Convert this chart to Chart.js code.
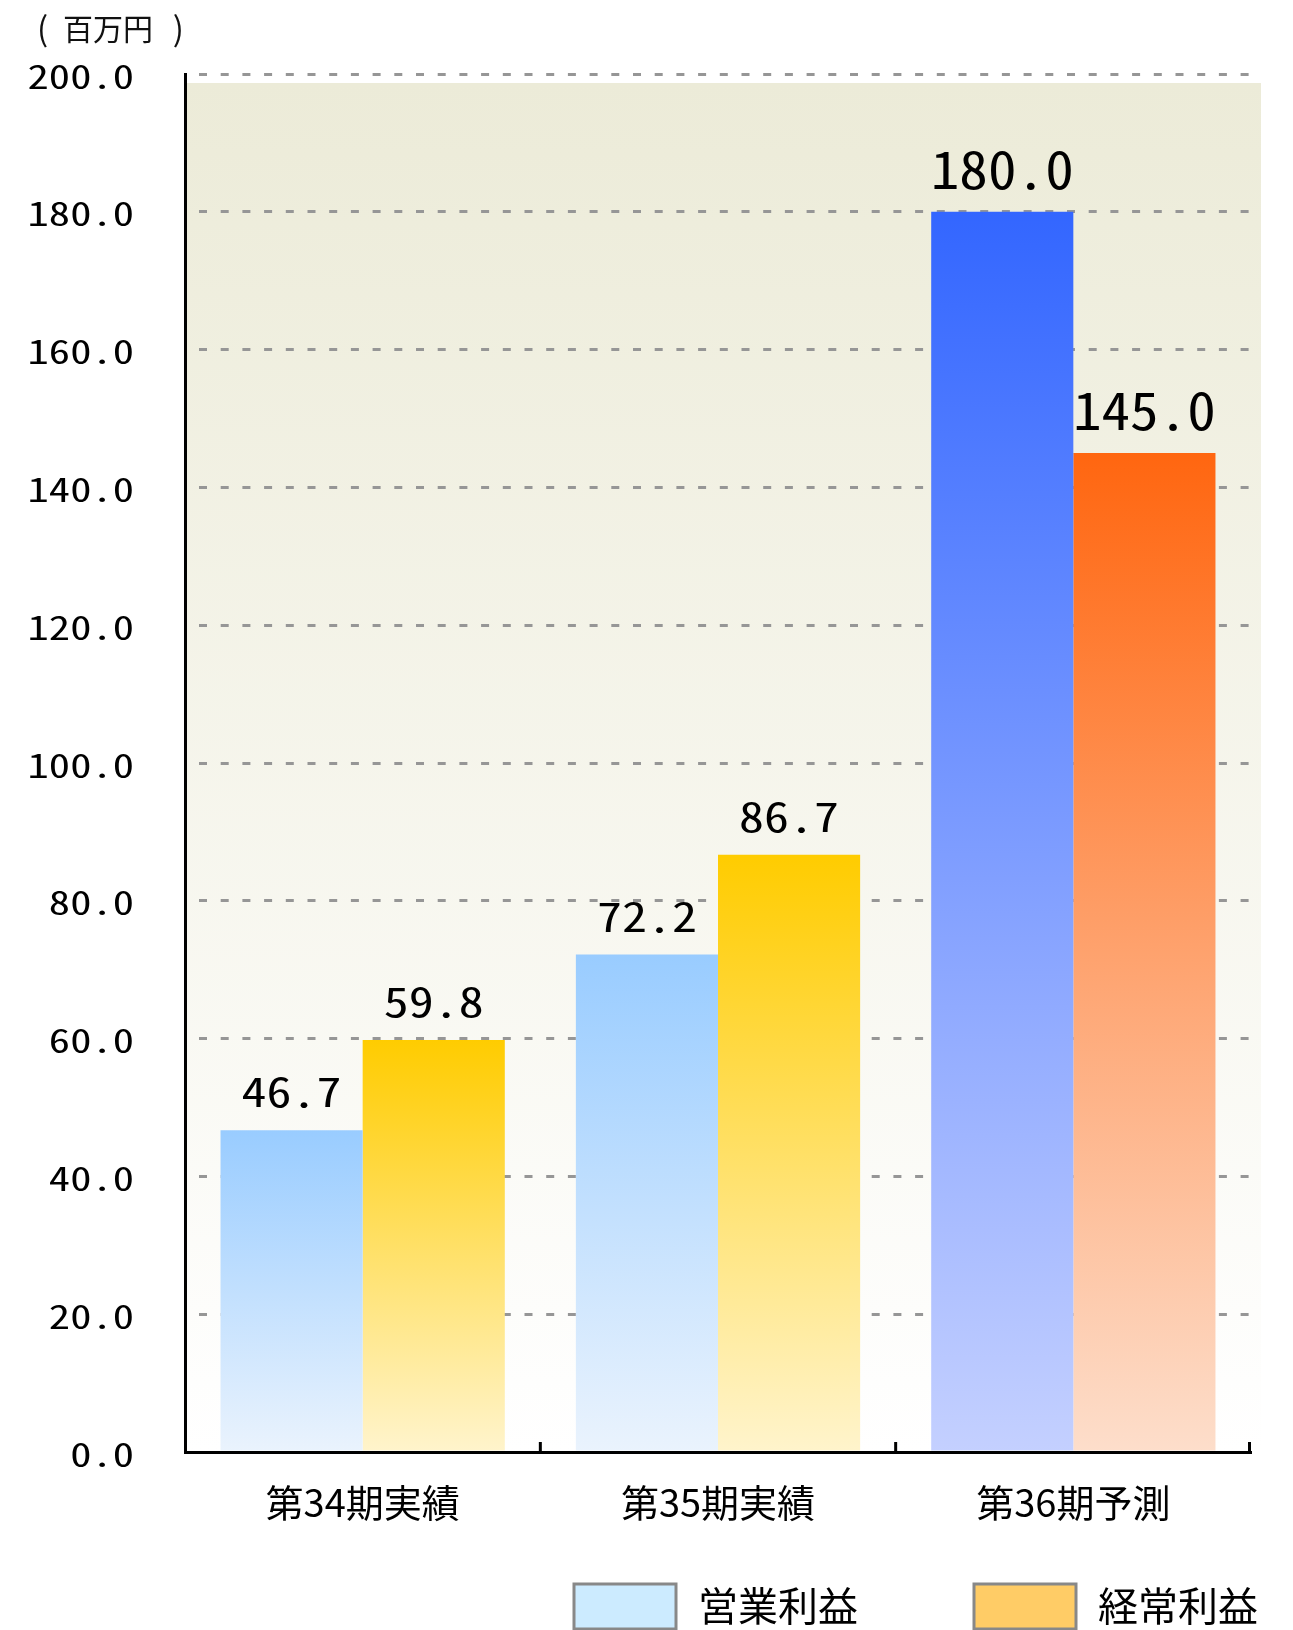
<!DOCTYPE html>
<html>
<head>
<meta charset="utf-8">
<script src="https://cdn.jsdelivr.net/npm/chart.js@4.4.1/dist/chart.umd.min.js"></script>
<style>
  html, body { margin: 0; padding: 0; background: #ffffff; overflow: hidden; }
  #wrap { width: 1293px; height: 1630px; }
</style>
</head>
<body>
<div id="wrap"><canvas id="c" width="1293" height="1630"></canvas></div>
<script>
// ---- data ----
const categories = ['第34期実績', '第35期実績', '第36期予測'];
const seriesNames = ['営業利益', '経常利益'];
const operatingProfit = [46.7, 72.2, 180.0];
const ordinaryProfit = [59.8, 86.7, 145.0];
const yTicks = [0, 20, 40, 60, 80, 100, 120, 140, 160, 180, 200];
const unitLabel = '百万円';

// ---- styles ----
const barTop = [
  ['#99CCFF', '#99CCFF', '#3366FF'],
  ['#FFCC00', '#FFCC00', '#FF6610']
];
const barBottom = [
  ['#EAF3FD', '#EAF3FD', '#C4D0FF'],
  ['#FFF4CC', '#FFF4CC', '#FDDECB']
];
const legendFill = ['#CCEBFF', '#FFCC66'];
const CJK = '"Noto Sans CJK JP", "Noto Sans", sans-serif';

function hasFont(name) {
  const c = document.createElement('canvas').getContext('2d');
  const s = '0.0WWiil180';
  c.font = '40px monospace'; const a = c.measureText(s).width;
  c.font = '40px serif'; const b = c.measureText(s).width;
  c.font = '40px "' + name + '", monospace'; const m = c.measureText(s).width;
  c.font = '40px "' + name + '", serif'; const n = c.measureText(s).width;
  return m !== a && n !== b;
}
const NOTO_MONO = hasFont('Noto Sans Mono CJK JP');
// [font size, letter spacing, horizontal stretch]
const NUM = NOTO_MONO
  ? { family: '"Noto Sans Mono CJK JP", "Liberation Mono", monospace', tick: [33, 0, 1.29], small: [41, 0, 1.22], big: [52, 0, 1.1] }
  : { family: '"Liberation Mono", monospace', tick: [34, 0, 1], small: [42, 0, 1], big: [50, 0, 1] };

function stretchedText(ctx, text, x, y, sx) {
  ctx.save();
  ctx.translate(x, y);
  ctx.scale(sx, 1);
  CanvasRenderingContext2D.prototype.fillText.call(ctx, text, 0, 0);
  ctx.restore();
}

function barFill(c, s) {
  const chart = c.chart;
  const i = c.dataIndex;
  if (c.type !== 'data' || !chart.chartArea || !chart.scales.y) return barTop[s][i || 0];
  const y = chart.scales.y;
  const yTop = y.getPixelForValue(c.raw);
  const yBot = y.getPixelForValue(0);
  const g = chart.ctx.createLinearGradient(0, yTop, 0, yBot);
  g.addColorStop(0, barTop[s][i]);
  g.addColorStop(1, barBottom[s][i]);
  return g;
}

const decorPlugin = {
  id: 'decor',
  beforeDraw(chart) {
    const { ctx, chartArea: a } = chart;
    // horizontally stretched y tick labels
    const ys = chart.scales.y;
    if (ys && !ys._stretchedLabels) {
      const orig = ys.drawLabels;
      ys.drawLabels = function (area) {
        const cx = this.ctx;
        cx.fillText = function (t, x, y) { stretchedText(this, t, x, y, NUM.tick[2]); };
        try { orig.call(this, area); } finally { delete cx.fillText; }
      };
      ys._stretchedLabels = true;
    }
    ctx.save();
    const top = a.top + 9;
    const g = ctx.createLinearGradient(0, top, 0, a.bottom);
    g.addColorStop(0, '#ECEBD8');
    g.addColorStop(1, '#FFFFFF');
    ctx.fillStyle = g;
    ctx.fillRect(a.left, top, a.right - a.left + 10, a.bottom - top);
    ctx.restore();
  },
  afterDatasetsDraw(chart) {
    const { ctx } = chart;
    ctx.save();
    ctx.fillStyle = '#000';
    ctx.textAlign = 'center';
    ctx.textBaseline = 'alphabetic';
    chart.data.datasets.forEach((ds, di) => {
      const meta = chart.getDatasetMeta(di);
      meta.data.forEach((el, i) => {
        const spec = i === categories.length - 1 ? NUM.big : NUM.small;
        ctx.font = spec[0] + 'px ' + NUM.family;
        stretchedText(ctx, ds.data[i].toFixed(1), el.x, el.y - 23, spec[2]);
      });
    });
    ctx.restore();
  },
  afterDraw(chart) {
    const { ctx, chartArea: a } = chart;
    ctx.save();
    // inward tick marks on x axis at category boundaries
    ctx.strokeStyle = '#000';
    ctx.lineWidth = 3;
    const n = categories.length;
    for (let k = 1; k <= n; k++) {
      const x = a.left + (a.right - a.left) * k / n;
      const xx = k === n ? x - 1.5 : x;
      ctx.beginPath();
      ctx.moveTo(xx, a.bottom);
      ctx.lineTo(xx, a.bottom - 10);
      ctx.stroke();
    }
    // unit label
    ctx.fillStyle = '#111';
    ctx.textBaseline = 'middle';
    ctx.font = '33px ' + CJK;
    ctx.textAlign = 'left';
    ctx.fillText('(', 37, 28);
    ctx.textAlign = 'right';
    ctx.fillText(')', 184, 28);
    ctx.font = '30px ' + CJK;
    ctx.textAlign = 'left';
    ctx.fillText(unitLabel, 63, 29);
    // legend
    ctx.textAlign = 'left';
    ctx.font = '40px ' + CJK;
    chart.data.datasets.forEach((ds, di) => {
      const bx = 574 + di * 400;
      const by = 1584;
      ctx.fillStyle = legendFill[di];
      ctx.fillRect(bx, by, 102, 45);
      ctx.strokeStyle = '#888888';
      ctx.lineWidth = 3;
      ctx.strokeRect(bx, by, 102, 45);
      ctx.fillStyle = '#000';
      ctx.fillText(ds.label, bx + 124, by + 22);
    });
    ctx.restore();
  }
};

new Chart(document.getElementById('c'), {
  type: 'bar',
  data: {
    labels: categories,
    datasets: [
      { label: seriesNames[0], data: operatingProfit, backgroundColor: c => barFill(c, 0), borderWidth: 0 },
      { label: seriesNames[1], data: ordinaryProfit, backgroundColor: c => barFill(c, 1), borderWidth: 0 }
    ]
  },
  options: {
    responsive: false,
    devicePixelRatio: 1,
    animation: false,
    layout: { padding: { top: 74, right: 42, bottom: 78, left: 0 } },
    datasets: { bar: { categoryPercentage: 0.8, barPercentage: 1.0 } },
    plugins: {
      legend: { display: false },
      tooltip: { enabled: false },
      title: { display: false }
    },
    scales: {
      x: {
        grid: { display: false },
        border: { display: true, color: '#000', width: 3 },
        ticks: { color: '#000', font: { family: CJK, size: 38 }, padding: 20, maxRotation: 0 },
        afterFit(s) { s.height = 100; }
      },
      y: {
        min: yTicks[0],
        max: yTicks[yTicks.length - 1],
        afterBuildTicks(s) { s.ticks = yTicks.map(v => ({ value: v })); },
        grid: { color: '#969696', lineWidth: 3, drawTicks: false },
        border: { display: true, color: '#000', width: 3, dash: [8, 13.7], dashOffset: 9.7 },
        ticks: {
          color: '#000',
          font: { family: NUM.family, size: NUM.tick[0] },
          padding: 51,
          labelOffset: 2,
          callback: v => Number(v).toFixed(1)
        },
        afterFit(s) { s.width = 185; }
      }
    }
  },
  plugins: [decorPlugin]
});
</script>
</body>
</html>
